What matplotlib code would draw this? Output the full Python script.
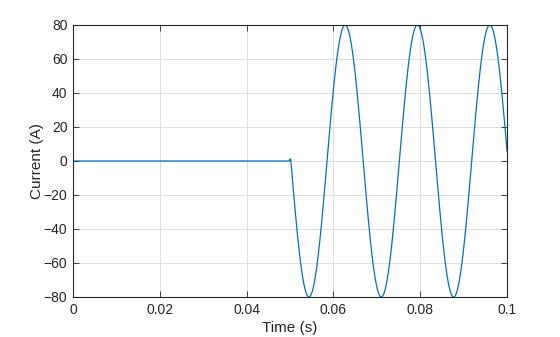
import numpy as np
import matplotlib
matplotlib.use("Agg")
import matplotlib.pyplot as plt
from matplotlib.ticker import FixedLocator

# Signal parameters
amplitude = 80.0        # A
frequency = 60.0        # Hz
onset = 0.0502          # s, fault instant
spike_value = 1.0       # small blip at switch-on
t_end = 0.1

xticks = [0, 0.02, 0.04, 0.06, 0.08, 0.1]
xticklabels = ["0", "0.02", "0.04", "0.06", "0.08", "0.1"]
yticks = [-80, -60, -40, -20, 0, 20, 40, 60, 80]

t = np.linspace(0, t_end, 20001)
i = np.where(t < onset, 0.0, -amplitude * np.sin(2 * np.pi * frequency * (t - onset)))
i[(t >= 0.0499) & (t < onset)] = spike_value

plt.rcParams['font.family'] = ['Liberation Sans', 'DejaVu Sans']
fig = plt.figure(figsize=(5.6, 3.37), dpi=100)
ax = fig.add_axes([73/560, 1 - 297/337, 434/560, 272/337])
ax.plot(t, i, color='#0072BD', lw=0.9)
ax.set_xlim(0, t_end)
ax.set_ylim(-80, 80)
ax.xaxis.set_major_locator(FixedLocator(xticks))
ax.set_xticklabels(xticklabels)
ax.yaxis.set_major_locator(FixedLocator(yticks))
ax.grid(True, color='#DFDFDF', lw=0.7)
ax.set_axisbelow(True)
ax.tick_params(direction='in', length=4, width=0.6, top=True, right=True,
               labelsize=10, colors='#262626', pad=4)
for s in ax.spines.values():
    s.set_color('#262626')
    s.set_linewidth(0.8)
ax.set_xlabel('Time (s)', fontsize=11, color='#262626', labelpad=3)
ax.set_ylabel('Current (A)', fontsize=11, color='#262626', labelpad=0)
fig.savefig('out.png', dpi=100)
